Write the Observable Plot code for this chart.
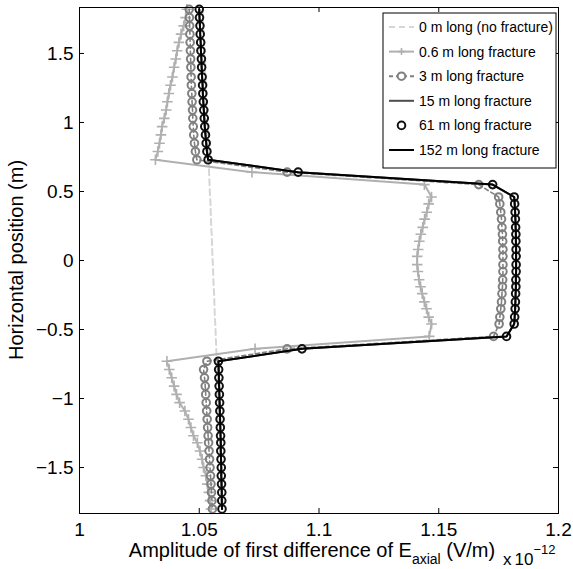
<!DOCTYPE html>
<html>
<head>
<meta charset="utf-8">
<script src="https://cdn.jsdelivr.net/npm/d3@7"></script>
<script src="https://cdn.jsdelivr.net/npm/@observablehq/plot@0.6"></script>
<style>
  html, body { margin: 0; padding: 0; background: #fff; }
  #chart { width: 573px; height: 569px; }
</style>
</head>
<body>
<div id="chart"></div>
<script>
// Horizontal positions (m) of the samples
const yPos = [1.82,1.76,1.70,1.64,1.58,1.52,1.46,1.40,1.33,1.27,1.21,1.15,1.09,1.03,0.97,0.91,0.85,0.79,0.73,
  0.64,0.55,
  0.46,0.41,0.35,0.30,0.24,0.19,0.14,0.08,0.03,-0.03,-0.08,-0.14,-0.19,-0.24,-0.30,-0.35,-0.41,-0.46,
  -0.55,-0.64,
  -0.73,-0.79,-0.85,-0.91,-0.97,-1.03,-1.09,-1.15,-1.21,-1.27,-1.32,-1.38,-1.44,-1.50,-1.56,-1.62,-1.68,-1.74,-1.80];

// Amplitude (x 1e-12 V/m) for each fracture length
const xNoFracture = [1.0514,1.0515,1.0517,1.0518,1.0520,1.0521,1.0522,1.0524,1.0525,1.0527,1.0528,1.0529,1.0531,1.0532,1.0534,1.0535,1.0536,1.0538,1.0539,
  1.0541,1.0543,
  1.0545,1.0547,1.0548,1.0549,1.0550,1.0552,1.0553,1.0554,1.0555,1.0557,1.0558,1.0559,1.0560,1.0562,1.0563,1.0564,1.0565,1.0567,
  1.0569,1.0571,
  1.0573,1.0574,1.0576,1.0577,1.0578,1.0580,1.0581,1.0583,1.0584,1.0585,1.0587,1.0588,1.0590,1.0591,1.0592,1.0594,1.0595,1.0597,1.0598];

const x06 = [1.0448,1.0443,1.0435,1.0424,1.0415,1.0408,1.0402,1.0395,1.0388,1.0380,1.0373,1.0367,1.0362,1.0354,1.0345,1.0340,1.0334,1.0327,1.0317,
  1.0720,1.1440,
  1.1470,1.1458,1.1450,1.1441,1.1433,1.1425,1.1419,1.1414,1.1410,1.1410,1.1413,1.1418,1.1424,1.1431,1.1440,1.1449,1.1458,1.1470,
  1.1460,1.0733,
  1.0365,1.0375,1.0385,1.0395,1.0405,1.0418,1.0440,1.0455,1.0465,1.0476,1.0492,1.0503,1.0512,1.0518,1.0528,1.0534,1.0540,1.0545,1.0549];

const x3 = [1.0458,1.0459,1.0460,1.0461,1.0462,1.0463,1.0464,1.0465,1.0466,1.0467,1.0469,1.0470,1.0472,1.0473,1.0475,1.0477,1.0480,1.0484,1.0490,
  1.0867,1.1667,
  1.1750,1.1755,1.1759,1.1762,1.1764,1.1766,1.1767,1.1768,1.1768,1.1768,1.1768,1.1767,1.1766,1.1764,1.1762,1.1759,1.1755,1.1752,
  1.1729,1.0867,
  1.0532,1.0518,1.0522,1.0525,1.0527,1.0529,1.0531,1.0533,1.0535,1.0537,1.0539,1.0541,1.0543,1.0545,1.0547,1.0549,1.0551,1.0553,1.0555];

const x152 = [1.0500,1.0501,1.0503,1.0504,1.0506,1.0507,1.0509,1.0510,1.0512,1.0514,1.0515,1.0517,1.0519,1.0521,1.0523,1.0526,1.0529,1.0532,1.0537,
  1.0913,1.1725,
  1.1815,1.1817,1.1819,1.1820,1.1821,1.1822,1.1822,1.1823,1.1823,1.1823,1.1823,1.1822,1.1822,1.1821,1.1820,1.1819,1.1817,1.1815,
  1.1783,1.0929,
  1.0580,1.0581,1.0582,1.0583,1.0584,1.0585,1.0586,1.0587,1.0588,1.0589,1.0590,1.0590,1.0591,1.0592,1.0592,1.0593,1.0594,1.0594,1.0595];
const x61 = x152;
const x15 = x152;

const xTicks = [1, 1.05, 1.1, 1.15, 1.2];
const yTicks = [-1.5, -1, -0.5, 0, 0.5, 1, 1.5];
const legendLabels = ["0 m long (no fracture)", "0.6 m long fracture", "3 m long fracture",
  "15 m long fracture", "61 m long fracture", "152 m long fracture"];

const rows = xs => yPos.map((y, i) => ({y, x: xs[i]}));
const fmt = d => (d < 0 ? "\u2212" + Math.abs(d) : String(d));

const W = 573, H = 569, mL = 79, mR = 15, mT = 7, mB = 56;
const innerW = W - mL - mR, innerH = H - mT - mB;
const FONT = "'Liberation Sans', Arial, Helvetica, sans-serif";

const plot = Plot.plot({
  width: W, height: H,
  marginLeft: mL, marginRight: mR, marginTop: mT, marginBottom: mB,
  style: {fontFamily: FONT, fontSize: "19px", color: "black", background: "white", overflow: "visible"},
  x: {domain: [1, 1.2]},
  y: {domain: [-1.833, 1.833]},
  marks: [
    Plot.line(rows(xNoFracture), {x: "x", y: "y", stroke: "#d6d6d6", strokeWidth: 2, strokeDasharray: "6,4"}),
    Plot.line(rows(x06), {x: "x", y: "y", stroke: "#b0b0b0", strokeWidth: 2}),
    Plot.dot(rows(x06), {x: "x", y: "y", symbol: "plus", r: 3.5, stroke: "#b0b0b0", strokeWidth: 1.6}),
    Plot.line(rows(x3), {x: "x", y: "y", stroke: "#808080", strokeWidth: 1.6, strokeDasharray: "4,3"}),
    Plot.dot(rows(x3), {x: "x", y: "y", r: 3.8, stroke: "#808080", strokeWidth: 2, fill: "none"}),
    Plot.line(rows(x15), {x: "x", y: "y", stroke: "#4d4d4d", strokeWidth: 2}),
    Plot.dot(rows(x61), {x: "x", y: "y", r: 3.8, stroke: "#111", strokeWidth: 2, fill: "none"}),
    Plot.line(rows(x152), {x: "x", y: "y", stroke: "black", strokeWidth: 2}),
    Plot.frame({stroke: "black", strokeWidth: 1}),
    Plot.tickX(xTicks, {x: d => d, insetTop: innerH - 5, stroke: "black"}),
    Plot.tickX(xTicks, {x: d => d, insetBottom: innerH - 5, stroke: "black"}),
    Plot.tickY(yTicks, {y: d => d, insetRight: innerW - 5, stroke: "black"}),
    Plot.tickY(yTicks, {y: d => d, insetLeft: innerW - 5, stroke: "black"}),
    Plot.axisX(xTicks, {tickSize: 0, tickPadding: 9, tickFormat: fmt, label: null}),
    Plot.axisY(yTicks, {tickSize: 0, tickPadding: 6, tickFormat: fmt, label: null})
  ]
});

document.getElementById("chart").appendChild(plot);
const svg = d3.select(plot);

// Axis labels
const xl = svg.append("text")
  .attr("x", 312).attr("y", 557)
  .attr("text-anchor", "middle")
  .style("font-family", FONT).style("font-size", "20px").attr("fill", "black");
xl.append("tspan").text("Amplitude of first difference of E");
xl.append("tspan").attr("dy", 7).style("font-size", "14px").text("axial");
xl.append("tspan").attr("dy", -7).text(" (V/m)");

const mult = svg.append("text").attr("x", 503).attr("y", 565)
  .attr("text-anchor", "start")
  .style("font-family", FONT).style("font-size", "17px").attr("fill", "black");
mult.append("tspan").text("x");
mult.append("tspan").attr("dx", 3).text("10");
mult.append("tspan").attr("dy", -11).style("font-size", "13px").text("\u221212");

svg.append("text")
  .attr("transform", "translate(23,260) rotate(-90)")
  .attr("text-anchor", "middle")
  .style("font-family", FONT).style("font-size", "20px").attr("fill", "black")
  .text("Horizontal position (m)");

// Legend
const lg = svg.append("g");
const lx = 383, ly = 13, lw = 173, lh = 155;
lg.append("rect").attr("x", lx).attr("y", ly).attr("width", lw).attr("height", lh)
  .attr("fill", "white").attr("stroke", "black").attr("stroke-width", 1);
const styles = [
  {stroke: "#d6d6d6", dash: "6,4", marker: null, line: true},
  {stroke: "#b0b0b0", dash: null, marker: "plus", line: true},
  {stroke: "#808080", dash: "4,3", marker: "circle", line: true},
  {stroke: "#4d4d4d", dash: null, marker: null, line: true},
  {stroke: "#111", dash: null, marker: "circle", line: false},
  {stroke: "black", dash: null, marker: null, line: true}
];
legendLabels.forEach((lab, i) => {
  const cy = 27 + i * 24.6;
  const s = styles[i];
  if (s.line) {
    lg.append("line").attr("x1", 389).attr("x2", 414).attr("y1", cy).attr("y2", cy)
      .attr("stroke", s.stroke).attr("stroke-width", 2)
      .attr("stroke-dasharray", s.dash);
  }
  if (s.marker === "circle") {
    lg.append("circle").attr("cx", 401.5).attr("cy", cy).attr("r", 3.8)
      .attr("fill", "white").attr("stroke", s.stroke).attr("stroke-width", 2);
  } else if (s.marker === "plus") {
    lg.append("path").attr("d", `M${401.5-3.5},${cy}H${401.5+3.5}M401.5,${cy-3.5}V${cy+3.5}`)
      .attr("stroke", s.stroke).attr("stroke-width", 1.6);
  }
  lg.append("text").attr("x", 419).attr("y", cy + 5)
    .attr("text-anchor", "start")
    .style("font-family", FONT).style("font-size", "14px").attr("fill", "black")
    .text(lab);
});
</script>
</body>
</html>
